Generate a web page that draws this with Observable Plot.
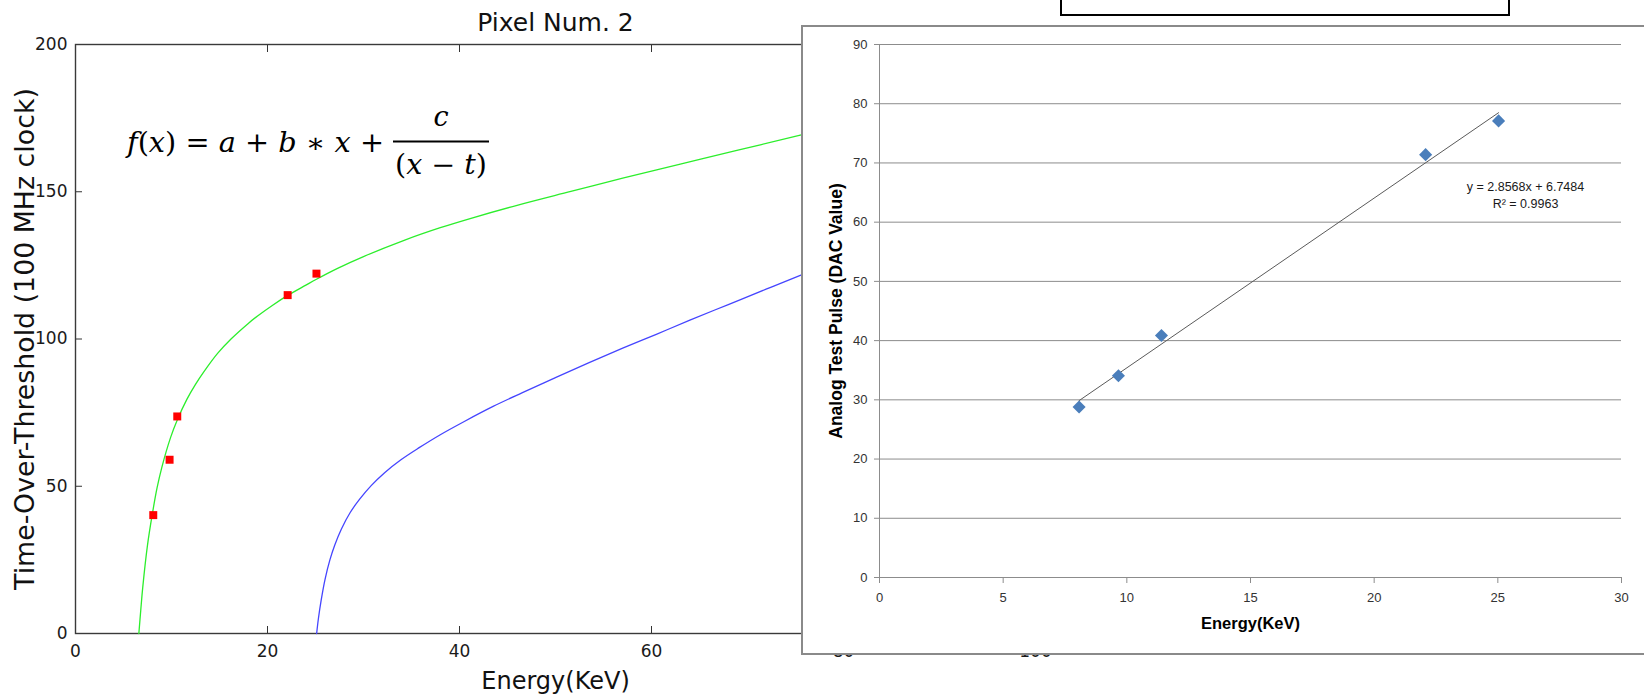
<!DOCTYPE html>
<html>
<head>
<meta charset="utf-8">
<script src="https://cdn.jsdelivr.net/npm/d3@7"></script>
<script src="https://cdn.jsdelivr.net/npm/@observablehq/plot@0.6"></script>
<style>
  html, body { margin: 0; padding: 0; background: #fff; overflow: hidden; }
  #root { position: relative; width: 1644px; height: 694px; overflow: hidden; background: #fff; }
  #bg { position: absolute; left: 0; top: 0; }
  #inset { position: absolute; left: 801px; top: 25px; width: 860px; height: 626px; border: 2px solid #8a8a8a; background: #fff; }
  #titlebox { position: absolute; left: 1060px; top: -12px; width: 446px; height: 24px; border: 2px solid #000; background: #fff; }
</style>
</head>
<body>
<div id="root">
  <div id="bg"></div>
  <div id="inset"></div>
  <div id="titlebox"></div>
</div>
<script>
// ---------- Background chart: Pixel Num. 2 ----------
const bgTitle = "Pixel Num. 2";
const bgXLabel = "Energy(KeV)";
const bgYLabel = "Time-Over-Threshold (100 MHz clock)";
const bgXTicks = [0, 20, 40, 60, 80, 100];
const bgYTicks = [0, 50, 100, 150, 200];

// fitted curve (green)
const greenEnergy = [6.6, 6.8, 7.0, 7.5, 8.0, 8.5, 9.0, 9.9, 10.6, 11.6, 12.5, 13.4, 14.8, 16.2, 18.0, 19.0, 20.5, 22.1, 24.0, 25.1, 27.3, 30.0, 34.3, 38.0, 41.2, 46.0, 51.6, 57.0, 63.0, 69.0, 75.5, 77.0];
const greenToT    = [0, 8, 15.5, 30, 40.5, 49.5, 56.5, 66.5, 72.5, 79.5, 84.6, 89.0, 95.1, 100, 105.3, 107.9, 111.4, 114.8, 118.3, 120.3, 124, 128, 133.6, 137.8, 141, 145.4, 150.1, 154.6, 159.4, 164.1, 169.2, 170.4];

// second curve (blue)
const blueEnergy = [25.12, 25.3, 25.6, 26.0, 26.5, 27.0, 27.7, 28.6, 29.6, 30.8, 32.2, 33.9, 35.8, 38.0, 40.5, 43.5, 46.5, 50.0, 53.5, 57.0, 60.5, 64.0, 68.0, 72.0, 75.5, 78.0];
const blueToT    = [0, 5, 11.5, 18.5, 25, 30, 35.5, 41, 45.6, 50.2, 54.6, 59, 63.1, 67.5, 72.0, 77.1, 81.7, 86.9, 92.0, 96.9, 101.6, 106.4, 111.7, 117.0, 121.6, 124.8];

// measured points (red squares)
const measEnergy = [8.1, 9.8, 10.6, 22.1, 25.1];
const measToT    = [40.2, 59, 73.7, 114.9, 122.2];

// ---------- Inset chart: Excel calibration ----------
const insetXLabel = "Energy(KeV)";
const insetYLabel = "Analog Test Pulse (DAC Value)";
const insetXTicks = [0, 5, 10, 15, 20, 25, 30];
const insetYTicks = [0, 10, 20, 30, 40, 50, 60, 70, 80, 90];
const pulseEnergy = [8.07, 9.66, 11.4, 22.08, 25.03];
const pulseDAC    = [28.8, 34.06, 40.86, 71.4, 77.1];
const trendText   = ["y = 2.8568x + 6.7484", "R\u00b2 = 0.9963"];

const green = greenEnergy.map((e, i) => ({e, t: greenToT[i]}));
const blue = blueEnergy.map((e, i) => ({e, t: blueToT[i]}));
const meas = measEnergy.map((e, i) => ({e, t: measToT[i]}));
const pulse = pulseEnergy.map((e, i) => ({e, d: pulseDAC[i]}));

const bg = Plot.plot({
  width: 1644, height: 694,
  marginLeft: 75, marginRight: 609, marginTop: 44, marginBottom: 61,
  style: {fontFamily: "DejaVu Sans", fontSize: "17px", color: "#1a1a1a", background: "transparent", overflow: "visible"},
  x: {domain: [0, 100]},
  y: {domain: [0, 200]},
  marks: [
    Plot.axisX(bgXTicks, {anchor: "bottom", tickSize: -7, tickPadding: 18, label: null, stroke: "#333"}),
    Plot.axisX(bgXTicks, {anchor: "top", tickSize: -7, tickFormat: () => "", label: null, stroke: "#333"}),
    Plot.axisY(bgYTicks, {anchor: "left", tickSize: -7, tickPadding: 15, label: null, stroke: "#333"}),
    Plot.frame({stroke: "#3a3a3a", strokeWidth: 1.4}),
    Plot.line(green, {x: "e", y: "t", stroke: "#2cee2c", strokeWidth: 1.3, curve: "catmull-rom"}),
    Plot.line(blue, {x: "e", y: "t", stroke: "#4545ff", strokeWidth: 1.3, curve: "catmull-rom"}),
    Plot.dot(meas, {x: "e", y: "t", symbol: "square", r: 4.5, fill: "#ff0000", stroke: null}),
    Plot.text([bgTitle], {text: d => d, frameAnchor: "top", lineAnchor: "middle", dy: -22, fontSize: 25, fill: "#111"}),
    Plot.text([bgXLabel], {text: d => d, frameAnchor: "bottom", lineAnchor: "middle", dy: 48, fontSize: 24, fill: "#111"}),
    Plot.text([bgYLabel], {text: d => d, frameAnchor: "left", textAnchor: "middle", lineAnchor: "middle", dx: -50, rotate: -90, fontSize: 26.8, fill: "#111"})
  ]
});
document.getElementById("bg").appendChild(bg);

// formula annotation
const svg = d3.select(bg);
const fg = svg.append("g").attr("font-family", "DejaVu Serif").attr("font-size", 27).attr("fill", "#000").attr("text-anchor", "start");
const main = fg.append("text").attr("x", 127).attr("y", 152).attr("text-anchor", "start").attr("textLength", 257).attr("lengthAdjust", "spacingAndGlyphs");
const parts = [["f", true], ["(", false], ["x", true], [")", false], [" = ", false], ["a", true], [" + ", false], ["b", true], [" \u2217 ", false], ["x", true], [" +", false]];
parts.forEach(([s, it]) => main.append("tspan").attr("font-style", it ? "italic" : "normal").text(s));
fg.append("text").attr("x", 441).attr("y", 126).attr("text-anchor", "middle").attr("font-style", "italic").text("c");
fg.append("line").attr("x1", 393).attr("x2", 489).attr("y1", 141.5).attr("y2", 141.5).attr("stroke", "#000").attr("stroke-width", 1.8);
const den = fg.append("text").attr("x", 395).attr("y", 174).attr("text-anchor", "start").attr("textLength", 92).attr("lengthAdjust", "spacingAndGlyphs");
[["(", false], ["x", true], [" \u2212 ", false], ["t", true], [")", false]].forEach(([s, it]) => den.append("tspan").attr("font-style", it ? "italic" : "normal").text(s));

// ---------- Inset ----------
const inset = Plot.plot({
  width: 841, height: 626,
  marginLeft: 76, marginRight: 23, marginTop: 17, marginBottom: 76,
  style: {fontFamily: "Liberation Sans, Arial, sans-serif", fontSize: "13px", color: "#333", background: "#fff"},
  x: {domain: [0, 30]},
  y: {domain: [0, 90]},
  marks: [
    Plot.gridY(insetYTicks, {stroke: "#8c8c8c", strokeOpacity: 1, strokeWidth: 1}),
    Plot.ruleX([0], {stroke: "#8c8c8c"}),
    Plot.axisY(insetYTicks, {anchor: "left", tickSize: 5, tickPadding: 7, label: null, stroke: "#8c8c8c"}),
    Plot.axisX(insetXTicks, {anchor: "bottom", tickSize: 6, tickPadding: 9, label: null, stroke: "#8c8c8c"}),
    Plot.linearRegressionY(pulse, {x: "e", y: "d", ci: 0, stroke: "#5a5a5a", strokeWidth: 1}),
    Plot.dot(pulse, {x: "e", y: "d", symbol: "diamond2", r: 5.9, fill: "#4a7ebb", stroke: null}),
    Plot.text([trendText[0]], {text: d => d, frameAnchor: "top-left", textAnchor: "middle", lineAnchor: "middle", dx: 646, dy: 142, fontSize: 12.5, fill: "#1a1a1a"}),
    Plot.text([trendText[1]], {text: d => d, frameAnchor: "top-left", textAnchor: "middle", lineAnchor: "middle", dx: 646, dy: 159, fontSize: 12.5, fill: "#1a1a1a"}),
    Plot.text([insetXLabel], {text: d => d, frameAnchor: "bottom", lineAnchor: "middle", dy: 46, fontSize: 16.5, fontWeight: "bold", fill: "#000"}),
    Plot.text([insetYLabel], {text: d => d, frameAnchor: "left", textAnchor: "middle", lineAnchor: "middle", dx: -43, rotate: -90, fontSize: 17.5, fontWeight: "bold", fill: "#000"})
  ]
});
document.getElementById("inset").appendChild(inset);
</script>
</body>
</html>
